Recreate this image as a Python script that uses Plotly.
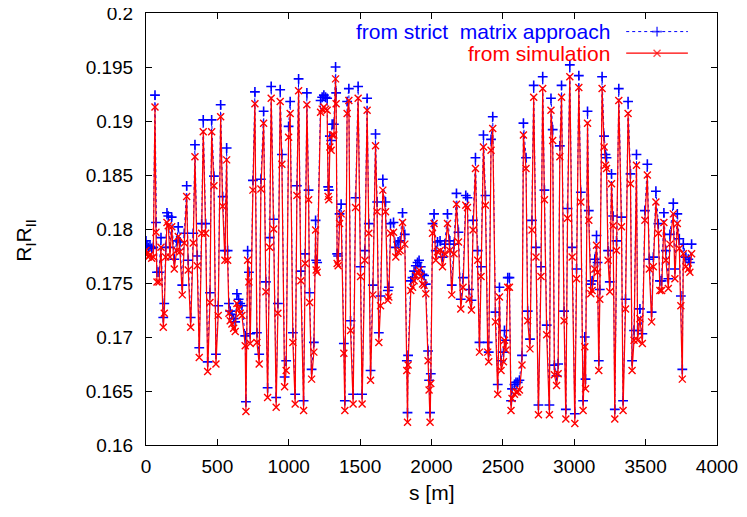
import plotly.graph_objects as go

# positions along the ring [m]
s_m = [
    0, 7, 16, 28, 40, 51, 63, 70, 77, 91, 105, 121, 128, 138, 147, 156, 168, 180, 198, 215, 226,
    238, 254, 268, 285, 296, 313, 331, 343, 359, 373, 390, 401, 418, 432, 448, 460, 476, 490, 506,
    523, 537, 553, 565,
    572, 581, 590, 602, 614, 625, 637, 649, 660, 672, 695, 700, 712, 721, 730, 749, 763, 777, 793,
    805, 824, 840, 852, 866, 877, 894, 912, 924, 940, 952, 971, 982, 999, 1010, 1029, 1045, 1057,
    1069, 1085, 1104, 1115, 1127, 1139, 1146,
    1160, 1176, 1188, 1192, 1199, 1223, 1234, 1246, 1258, 1269, 1276, 1281, 1288, 1297, 1304, 1316,
    1328, 1332, 1339, 1346, 1356, 1367, 1386, 1393, 1409, 1421, 1433, 1451, 1468, 1486, 1503, 1514,
    1533, 1549, 1561, 1573, 1589, 1608, 1619, 1631, 1643, 1659, 1678, 1694, 1701, 1713,
    1734, 1750, 1766, 1780, 1797, 1813, 1827, 1832, 1836, 1855, 1867, 1878, 1890, 1902, 1913, 1925,
    1937, 1948, 1960, 1976, 1983, 1990, 1995, 2007, 2018, 2030, 2042, 2060, 2077, 2093, 2112, 2128,
    2142, 2158, 2175, 2189, 2205, 2221, 2240, 2252, 2263, 2280, 2291,
    2308, 2324, 2336, 2347, 2364, 2378, 2394, 2401, 2417, 2429, 2448, 2464, 2476, 2487, 2504, 2511,
    2522, 2534, 2546, 2557, 2564, 2581, 2592, 2604, 2616, 2634, 2644, 2662, 2674, 2690, 2704, 2716,
    2732, 2749, 2767, 2779, 2791, 2807, 2826, 2837, 2849, 2861,
    2876, 2887, 2899, 2911, 2929, 2941, 2953, 2969, 2985, 3004, 3016, 3032, 3046, 3062, 3074, 3079,
    3093, 3102, 3116, 3125, 3144, 3156, 3163, 3172, 3179, 3195, 3209, 3219, 3226, 3237, 3249, 3261,
    3272, 3284, 3296, 3312, 3331, 3342, 3359, 3377, 3394, 3405, 3419, 3436,
    3444, 3460, 3477, 3495, 3512, 3526, 3542, 3554, 3572, 3589, 3600, 3612, 3628, 3642, 3659, 3670,
    3694, 3705, 3722, 3736, 3747, 3757, 3764, 3782, 3799, 3810, 3822,
]

# R_I R_II from the strict matrix approach
rr_matrix = [
    .1789, .1785, .1783, .1784, .1782, .1783, .1924, .1806, .1760, .1760, .1792,
    .1718, .1731, .1783, .1815, .1812, .1783, .1811, .1772, .1789, .1802,
    .1788, .1748, .1796, .1840, .1771, .1718, .1796, .1878, .1775, .1690,
    .1805, .1901, .1805, .1677, .1741, .1901, .1849, .1684, .1729, .1915,
    .1830, .1780, .1875,
    .1780, .1731, .1724, .1721, .1717, .1714, .1740, .1735, .1731, .1729,
    .1701, .1640, .1780, .1760, .1703, .1845, .1927, .1704, .1684, .1846,
    .1909, .1751, .1653, .1792, .1932, .1809, .1644, .1731, .1929, .1869,
    .1663, .1678, .1895, .1918, .1704, .1647, .1840, .1939, .1761, .1641,
    .1777, .1926, .1836, .1741,
    .1670, .1695, .1808, .1771, .1769, .1919, .1922, .1924, .1922, .1921,
    .1839, .1836, .1886, .1882, .1897, .1897, .1950, .1926, .1777, .1775,
    .1814, .1823, .1694, .1641, .1918, .1930, .1715, .1647, .1829, .1932,
    .1765, .1647, .1780, .1921, .1805, .1669, .1748, .1888, .1825, .1704,
    .1738, .1846, .1825, .1743, .1746, .1805,
    .1806, .1783, .1788, .1789, .1815, .1795, .1678, .1630, .1683, .1752,
    .1755, .1761, .1766, .1769, .1771, .1765, .1758, .1757, .1749, .1687,
    .1660, .1630, .1666, .1805, .1814, .1780, .1788, .1789, .1774, .1786,
    .1814, .1789, .1748, .1786, .1833, .1797, .1735, .1755, .1831, .1829,
    .1744, .1734, .1808,
    .1866, .1780, .1695, .1765, .1887, .1831, .1695, .1686, .1883, .1904,
    .1723, .1656, .1746, .1678, .1686, .1706, .1697, .1755, .1755, .1641,
    .1652, .1656, .1658, .1658, .1660, .1683, .1898, .1866, .1724, .1698,
    .1808, .1933, .1783, .1637, .1765, .1941, .1836, .1711, .1637, .1921,
    .1892, .1674,
    .1664, .1675, .1877, .1933, .1724, .1633, .1819, .1952, .1783, .1629,
    .1763, .1942, .1834, .1641, .1700, .1661, .1909, .1817, .1749, .1752,
    .1772, .1794, .1769, .1678, .1744, .1941, .1886, .1869, .1866, .1780,
    .1751, .1851, .1812, .1633, .1789, .1930, .1811, .1641, .1735, .1918,
    .1851, .1678, .1706, .1869,
    .1706, .1726, .1703, .1817, .1860, .1772, .1723, .1774, .1835, .1805,
    .1752, .1752, .1815, .1780, .1754, .1795, .1824, .1763, .1814, .1791,
    .1738, .1670, .1786, .1774, .1772, .1769, .1786,
]

# R_I R_II from simulation
rr_sim = [
    .1780, .1777, .1774, .1776, .1773, .1774, .1913, .1797, .1751, .1751, .1783,
    .1709, .1722, .1774, .1806, .1803, .1774, .1802, .1763, .1780, .1793,
    .1779, .1739, .1787, .1830, .1762, .1709, .1787, .1867, .1766, .1681,
    .1796, .1890, .1796, .1668, .1732, .1890, .1840, .1675, .1720, .1904,
    .1821, .1771, .1864,
    .1771, .1722, .1715, .1712, .1708, .1705, .1731, .1726, .1722, .1720,
    .1692, .1631, .1771, .1751, .1694, .1836, .1916, .1695, .1675, .1837,
    .1898, .1742, .1644, .1783, .1921, .1800, .1635, .1722, .1918, .1860,
    .1654, .1669, .1885, .1907, .1695, .1638, .1831, .1928, .1752, .1632,
    .1768, .1915, .1827, .1732,
    .1661, .1686, .1799, .1762, .1760, .1908, .1911, .1913, .1911, .1910,
    .1830, .1827, .1876, .1873, .1887, .1887, .1939, .1916, .1768, .1766,
    .1805, .1814, .1685, .1632, .1907, .1919, .1706, .1638, .1820, .1921,
    .1756, .1638, .1771, .1910, .1796, .1660, .1739, .1877, .1816, .1695,
    .1729, .1836, .1816, .1734, .1737, .1796,
    .1797, .1774, .1779, .1780, .1806, .1786, .1669, .1621, .1674, .1743,
    .1746, .1752, .1757, .1760, .1762, .1756, .1749, .1748, .1740, .1678,
    .1651, .1621, .1657, .1796, .1805, .1771, .1779, .1780, .1765, .1777,
    .1805, .1780, .1739, .1777, .1823, .1788, .1726, .1746, .1822, .1820,
    .1735, .1725, .1799,
    .1856, .1771, .1686, .1756, .1876, .1822, .1686, .1677, .1873, .1893,
    .1714, .1647, .1737, .1669, .1677, .1697, .1688, .1746, .1746, .1632,
    .1643, .1647, .1649, .1649, .1651, .1674, .1887, .1856, .1715, .1689,
    .1799, .1922, .1774, .1628, .1756, .1930, .1827, .1702, .1628, .1910,
    .1882, .1665,
    .1655, .1666, .1867, .1922, .1715, .1624, .1810, .1941, .1774, .1620,
    .1754, .1931, .1825, .1632, .1691, .1652, .1898, .1808, .1740, .1743,
    .1763, .1785, .1760, .1669, .1735, .1930, .1876, .1859, .1856, .1771,
    .1742, .1842, .1803, .1624, .1780, .1919, .1802, .1632, .1726, .1907,
    .1842, .1669, .1697, .1859,
    .1697, .1717, .1694, .1808, .1850, .1763, .1714, .1765, .1825, .1796,
    .1743, .1743, .1806, .1771, .1745, .1786, .1814, .1754, .1805, .1782,
    .1729, .1661, .1777, .1765, .1763, .1760, .1777,
]

series_names = ["from strict  matrix approach", "from simulation"]
x_ticks = [0, 500, 1000, 1500, 2000, 2500, 3000, 3500, 4000]
y_ticks = [0.16, 0.165, 0.17, 0.175, 0.18, 0.185, 0.19, 0.195, 0.2]
y_tick_text = ["0.16", "0.165", "0.17", "0.175", "0.18", "0.185", "0.19", "0.195", "0.2"]

BLUE = "#0000ff"
RED = "#ff0000"
FONT = "Liberation Sans, Arial, sans-serif"

fig = go.Figure()
fig.add_trace(go.Scatter(
    x=s_m, y=rr_matrix, mode="lines+markers", name=series_names[0],
    line=dict(color=BLUE, width=1, dash="dot"),
    marker=dict(symbol="cross-thin", size=7, line=dict(color=BLUE, width=1.6)),
    showlegend=False,
))
fig.add_trace(go.Scatter(
    x=s_m, y=rr_sim, mode="lines+markers", name=series_names[1],
    line=dict(color=RED, width=1.2),
    marker=dict(symbol="x-thin", size=7, line=dict(color=RED, width=1.4)),
    showlegend=False,
))

# gnuplot-style key (text left, sample right), on a hidden overlay axis 0..1
key_x = [0.841, 0.895, 0.949]
key_y = [0.957, 0.907]
fig.add_trace(go.Scatter(
    x=key_x, y=[key_y[0]] * 3, xaxis="x2", yaxis="y2", mode="lines+markers",
    line=dict(color=BLUE, width=1, dash="dot"),
    marker=dict(symbol="cross-thin", size=[0, 7, 0], line=dict(color=BLUE, width=1.6)),
    showlegend=False, hoverinfo="skip",
))
fig.add_trace(go.Scatter(
    x=key_x, y=[key_y[1]] * 3, xaxis="x2", yaxis="y2", mode="lines+markers",
    line=dict(color=RED, width=1.2),
    marker=dict(symbol="x-thin", size=[0, 7, 0], line=dict(color=RED, width=1.4)),
    showlegend=False, hoverinfo="skip",
))

annotations = [
    dict(text=series_names[0], x=0.816, y=key_y[0], xref="paper", yref="paper",
         xanchor="right", yanchor="middle", showarrow=False,
         font=dict(family=FONT, size=21, color=BLUE)),
    dict(text=series_names[1], x=0.816, y=key_y[1], xref="paper", yref="paper",
         xanchor="right", yanchor="middle", showarrow=False,
         font=dict(family=FONT, size=21, color=RED)),
    dict(text="s [m]", x=0.501, y=-0.111, xref="paper", yref="paper",
         xanchor="center", yanchor="middle", showarrow=False,
         font=dict(family=FONT, size=21, color="black")),
    dict(text="R<sub>I</sub>R<sub>II</sub>", x=-0.212, y=0.475, xref="paper", yref="paper",
         xanchor="center", yanchor="middle", showarrow=False, textangle=-90,
         font=dict(family=FONT, size=21, color="black")),
]

axis_common = dict(
    showline=True, linecolor="black", linewidth=1, mirror="allticks",
    ticks="inside", ticklen=6, tickcolor="black", tickwidth=1,
    showgrid=False, zeroline=False, automargin=False, ticklabeloverflow="allow",
    tickfont=dict(family=FONT, size=19, color="black"),
)

# page body has an 8px default margin, so the figure is offset by (8, 8)
fig.update_layout(
    width=747, height=517,
    margin=dict(l=138, r=38, t=5, b=80, autoexpand=False),
    paper_bgcolor="white", plot_bgcolor="white",
    xaxis=dict(range=[0, 4000], tickvals=x_ticks, ticklabelstandoff=4, **axis_common),
    yaxis=dict(range=[0.16, 0.2], tickvals=y_ticks, ticktext=y_tick_text,
               ticklabelstandoff=8, **axis_common),
    xaxis2=dict(range=[0, 1], overlaying="x", visible=False, fixedrange=True),
    yaxis2=dict(range=[0, 1], overlaying="y", visible=False, fixedrange=True),
    annotations=annotations,
)

fig.write_html("out.html")
